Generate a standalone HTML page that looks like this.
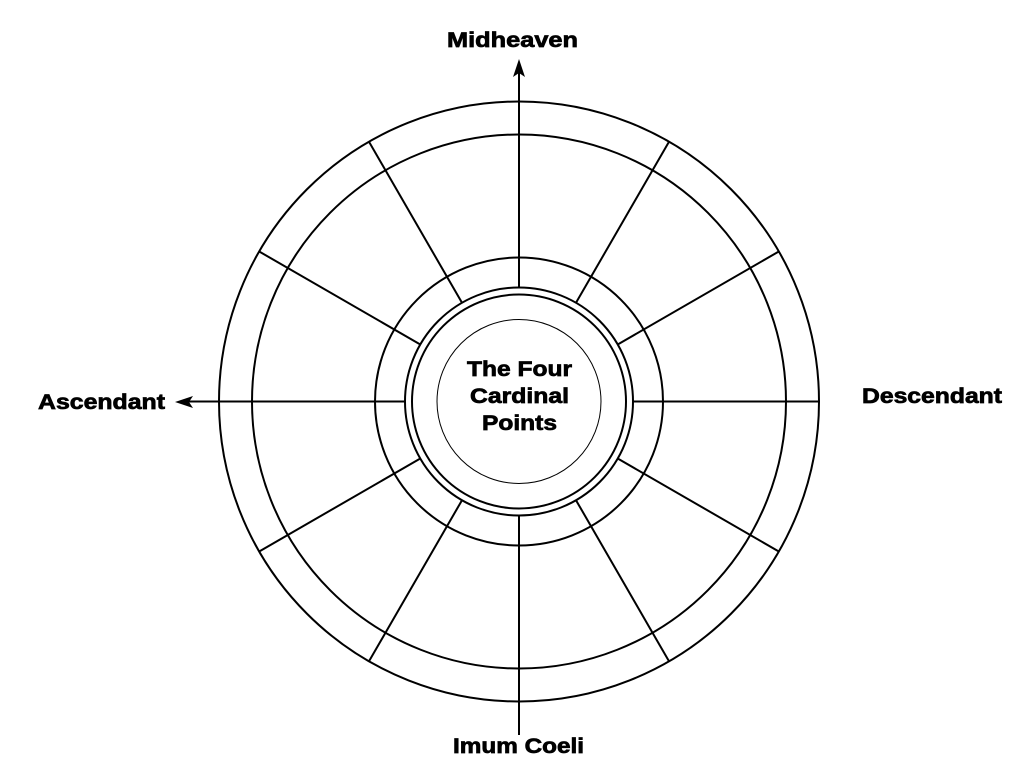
<!DOCTYPE html>
<html><head><style>
html,body{margin:0;padding:0;background:#fff;width:1024px;height:782px;overflow:hidden}
svg{display:block}
text{font-family:"Liberation Sans",Arial,sans-serif;font-weight:bold;fill:#000;stroke:#000;stroke-width:0.7}
</style></head><body>
<svg width="1024" height="782" viewBox="0 0 1024 782">
<g fill="none" stroke="#000" stroke-width="2">
<circle cx="519" cy="401.5" r="300"/>
<circle cx="519" cy="401.5" r="267"/>
<circle cx="519" cy="401.5" r="144"/>
<circle cx="519" cy="401.5" r="114"/>
<circle cx="519" cy="401.5" r="107"/>
<circle cx="519" cy="401.5" r="82" stroke-width="1"/>
<line x1="576" y1="302.8" x2="669" y2="141.7"/>
<line x1="617.7" y1="344.5" x2="778.8" y2="251.5"/>
<line x1="617.7" y1="458.5" x2="778.8" y2="551.5"/>
<line x1="576" y1="500.2" x2="669" y2="661.3"/>
<line x1="462" y1="500.2" x2="369" y2="661.3"/>
<line x1="420.3" y1="458.5" x2="259.2" y2="551.5"/>
<line x1="420.3" y1="344.5" x2="259.2" y2="251.5"/>
<line x1="462" y1="302.8" x2="369" y2="141.7"/>
<line x1="519" y1="287.5" x2="519" y2="68"/>
<line x1="519" y1="515.5" x2="519" y2="735"/>
<line x1="405" y1="401.5" x2="185" y2="401.5"/>
<line x1="633" y1="401.5" x2="820" y2="401.5"/>
</g>
<path d="M519,59 L513,77 L519,73 L525,77 Z" fill="#000"/>
<path d="M175,402 L193,396 L189,402 L193,408 Z" fill="#000"/>
<text x="447" y="47" font-size="21" textLength="131" lengthAdjust="spacingAndGlyphs">Midheaven</text>
<text x="38" y="409" font-size="21" textLength="127" lengthAdjust="spacingAndGlyphs">Ascendant</text>
<text x="862" y="403" font-size="21" textLength="140" lengthAdjust="spacingAndGlyphs">Descendant</text>
<text x="453" y="753" font-size="21" textLength="131" lengthAdjust="spacingAndGlyphs">Imum Coeli</text>
<text x="467" y="376" font-size="21" textLength="105" lengthAdjust="spacingAndGlyphs">The Four</text>
<text x="470" y="403" font-size="21" textLength="99" lengthAdjust="spacingAndGlyphs">Cardinal</text>
<text x="482" y="430" font-size="21" textLength="75" lengthAdjust="spacingAndGlyphs">Points</text>
</svg>
</body></html>
